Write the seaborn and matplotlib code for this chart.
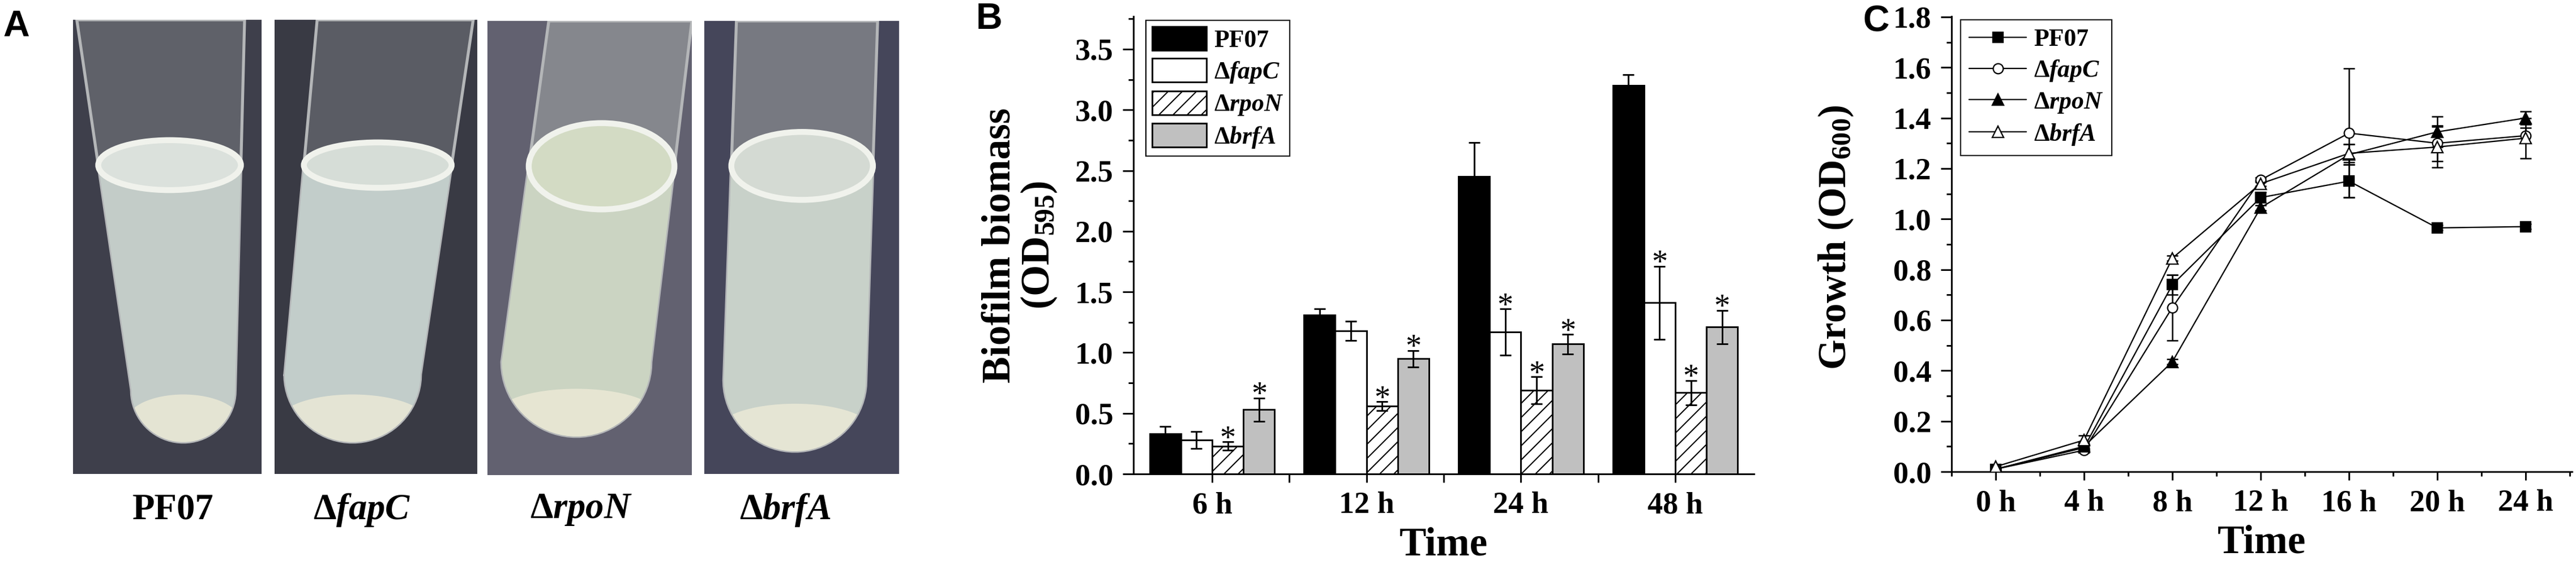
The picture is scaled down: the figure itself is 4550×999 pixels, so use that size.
import numpy as np
import pandas as pd
import matplotlib
matplotlib.use("Agg")
import matplotlib.pyplot as plt
import seaborn as sns
from matplotlib.patches import Polygon, Ellipse, Rectangle
from matplotlib.lines import Line2D
from matplotlib.ticker import MultipleLocator, FixedLocator, FormatStrFormatter


# ---------------- data ----------------
strains = ["PF07", "dfapC", "drpoN", "dbrfA"]
strain_labels = ["PF07", r"$\Delta\mathit{fapC}$", r"$\Delta\mathit{rpoN}$", r"$\Delta\mathit{brfA}$"]

# panel B : biofilm biomass (OD595)
biofilm_times = ["6 h", "12 h", "24 h", "48 h"]
biofilm_pf07 = [0.33, 1.31, 2.45, 3.20]
biofilm_fapc = [0.28, 1.18, 1.17, 1.41]
biofilm_rpon = [0.23, 0.56, 0.69, 0.67]
biofilm_brfa = [0.53, 0.95, 1.07, 1.21]
biofilm_err_pf07 = [0.06, 0.05, 0.28, 0.09]
biofilm_err_fapc = [0.07, 0.08, 0.19, 0.30]
biofilm_err_rpon = [0.035, 0.036, 0.11, 0.10]
biofilm_err_brfa = [0.095, 0.068, 0.08, 0.137]
biofilm_sig_pf07 = [False, False, False, False]
biofilm_sig_fapc = [False, False, True, True]
biofilm_sig_rpon = [True, True, True, True]
biofilm_sig_brfa = [True, True, True, True]

# panel C : growth (OD600)
growth_hours = [0, 4, 8, 12, 16, 20, 24]
growth_ticklabels = ["0 h", "4 h", "8 h", "12 h", "16 h", "20 h", "24 h"]
growth_pf07 = [0.01, 0.095, 0.74, 1.085, 1.15, 0.965, 0.97]
growth_fapc = [0.01, 0.085, 0.65, 1.155, 1.34, 1.30, 1.33]
growth_rpon = [0.01, 0.10, 0.435, 1.045, 1.255, 1.345, 1.40]
growth_brfa = [0.02, 0.125, 0.845, 1.14, 1.26, 1.285, 1.32]
growth_err_pf07 = [0.005, 0.01, 0.04, 0.02, 0.065, 0.01, 0.01]
growth_err_fapc = [0.005, 0.008, 0.13, 0.01, 0.255, 0.07, 0.03]
growth_err_rpon = [0.005, 0.01, 0.01, 0.01, 0.04, 0.06, 0.025]
growth_err_brfa = [0.01, 0.018, 0.01, 0.01, 0.035, 0.08, 0.08]


# ---------------- style ----------------
sns.set_theme(style="ticks")
plt.rcParams.update({
    "font.family": ["Liberation Serif", "DejaVu Serif"],
    "font.weight": "bold",
    "axes.labelweight": "bold",
    "mathtext.fontset": "custom",
    "mathtext.rm": "Liberation Serif:bold",
    "mathtext.it": "Liberation Serif:bold:italic",
    "mathtext.bf": "Liberation Serif:bold",
    "text.color": "black",
    "axes.labelcolor": "black",
    "axes.edgecolor": "black",
    "axes.linewidth": 1.4,
    "xtick.color": "black",
    "ytick.color": "black",
    "xtick.major.width": 1.4,
    "ytick.major.width": 1.4,
    "xtick.minor.width": 1.4,
    "ytick.minor.width": 1.4,
    "xtick.major.size": 7,
    "ytick.major.size": 9,
    "xtick.minor.size": 4,
    "ytick.minor.size": 4.5,
    "hatch.linewidth": 1.0,
    "legend.edgecolor": "black",
})

W, H = 4550, 999
DPI = 150
fig = plt.figure(figsize=(W / DPI, H / DPI), dpi=DPI, facecolor="white")


def fig_rect(x0, y0, x1, y1):
    # pixel box (from top-left) -> figure fraction rect
    return [x0 / W, 1 - y1 / H, (x1 - x0) / W, (y1 - y0) / H]


# ---------------- panel A : tube photos (drawn) ----------------
photo_boxes = [(129, 35, 462, 838), (485, 35, 843, 838), (861, 37, 1222, 840), (1244, 37, 1588, 838)]
photo_bg = ["#3e3f4b", "#393a44", "#626170", "#45465a"]
glass_col = ["#5f6169", "#5a5c64", "#85878d", "#777981"]
liquid_col = ["#c3ccc8", "#c2cdca", "#cbd4c2", "#c8d1c9"]
surface_col = ["#dbe1dc", "#d6ddd7", "#d3dbc4", "#d4dad3"]
# top-left, top-right, bottom-left, bottom-right, meniscus level, meniscus height, bottom tip
tube_shape = [
    (0.02, 0.91, 0.31, 0.86, 0.68, 0.11, 0.07),
    (0.21, 0.98, 0.05, 0.72, 0.68, 0.10, 0.07),
    (0.30, 1.00, 0.07, 0.80, 0.68, 0.19, 0.085),
    (0.165, 0.89, 0.10, 0.83, 0.68, 0.15, 0.05),
]

for i, box in enumerate(photo_boxes):
    tl, tr, bl, br, men, mh, bot = tube_shape[i]
    ax = fig.add_axes(fig_rect(*box))
    ax.set_xlim(0, 1)
    ax.set_ylim(0, 1)
    ax.set_facecolor(photo_bg[i])
    ax.set_xticks([])
    ax.set_yticks([])
    for s in ax.spines.values():
        s.set_visible(False)
    aspect = (box[2] - box[0]) / (box[3] - box[1])
    r = (br - bl) / 2
    cx = (bl + br) / 2
    cy = bot + r * aspect
    t = np.linspace(np.pi, 2 * np.pi, 40)
    arc = np.column_stack([cx + r * np.cos(t), cy + r * aspect * np.sin(t)])

    def edge_x(y, top_x, bot_x):
        return bot_x + (top_x - bot_x) * (y - cy) / (1 - cy)

    glass = np.vstack([[tl, 1.0], [bl, cy], arc, [br, cy], [tr, 1.0]])
    ax.add_patch(Polygon(glass, closed=True, fc=glass_col[i], ec="#b4b6b8", lw=2.5))
    xl, xr = edge_x(men, tl, bl), edge_x(men, tr, br)
    liquid = np.vstack([[xl, men], [bl, cy], arc, [br, cy], [xr, men]])
    liq_patch = ax.add_patch(Polygon(liquid, closed=True, fc=liquid_col[i], ec="none"))
    glow = ax.add_patch(Ellipse((cx, bot + 0.045), (br - bl) * 1.1, 0.12, fc="#ebe9d6", ec="none", alpha=0.85))
    glow.set_clip_path(liq_patch)
    ax.add_patch(Ellipse(((xl + xr) / 2, men), xr - xl, mh, fc=surface_col[i], ec="#f0f2ec", lw=5))

photo_centers = [306, 639, 1026, 1387]
for cxp, lab in zip(photo_centers, strain_labels):
    fig.text(cxp / W, 1 - 901 / H, lab, ha="center", va="center", fontsize=31, fontweight="bold")

fig.text(5 / W, 1 - 17 / H, "A", ha="left", va="top", fontsize=31, fontweight="bold", family="Liberation Sans")


# ---------------- panel B : biofilm bars ----------------
df_b = pd.DataFrame({
    "time": biofilm_times * len(strains),
    "strain": np.repeat(strains, len(biofilm_times)),
    "od": biofilm_pf07 + biofilm_fapc + biofilm_rpon + biofilm_brfa,
})
bar_colors = ["black", "white", "white", "#c0c0c0"]
bar_hatches = ["", "", "//", ""]
bar_errs = [biofilm_err_pf07, biofilm_err_fapc, biofilm_err_rpon, biofilm_err_brfa]
bar_sig = [biofilm_sig_pf07, biofilm_sig_fapc, biofilm_sig_rpon, biofilm_sig_brfa]

ax_b = fig.add_axes(fig_rect(2002, 29, 3098, 838))
sns.barplot(data=df_b, x="time", y="od", hue="strain", order=biofilm_times, hue_order=strains,
            palette=dict(zip(strains, bar_colors)), saturation=1, width=0.81,
            edgecolor="black", linewidth=1.4, errorbar=None, legend=False, ax=ax_b)

for cont, errs, sigs, hatch in zip(ax_b.containers, bar_errs, bar_sig, bar_hatches):
    xs = [p.get_x() + p.get_width() / 2 for p in cont]
    hs = [p.get_height() for p in cont]
    for p in cont:
        p.set_hatch(hatch)
    ax_b.errorbar(xs, hs, yerr=errs, fmt="none", ecolor="black", elinewidth=1.4,
                  capsize=5, capthick=1.4, zorder=3)
    for x, h, e, s in zip(xs, hs, errs, sigs):
        if s:
            ax_b.annotate("*", (x, h + e), xytext=(0, -5), textcoords="offset points",
                          ha="center", va="baseline", fontsize=27, fontweight="normal")

ax_b.set_xlim(-0.51, 3.51)
ax_b.set_ylim(0, 3.77)
ax_b.yaxis.set_major_locator(MultipleLocator(0.5))
ax_b.yaxis.set_minor_locator(MultipleLocator(0.25))
ax_b.yaxis.set_major_formatter(FormatStrFormatter("%.1f"))
ax_b.xaxis.set_minor_locator(FixedLocator([0.5, 1.5, 2.5]))
ax_b.tick_params(axis="x", which="minor", length=7)
ax_b.tick_params(axis="both", which="major", labelsize=26, pad=8)
ax_b.set_xlabel("Time", fontsize=34, labelpad=6)
ax_b.set_ylabel("Biofilm biomass\n(OD$_{595}$)", fontsize=34, labelpad=14, linespacing=1.0)
sns.despine(ax=ax_b)

handles_b = [Rectangle((0, 0), 1, 1, fc=c, ec="black", lw=1.4, hatch=h)
             for c, h in zip(bar_colors, bar_hatches)]
leg_b = ax_b.legend(handles_b, strain_labels, loc="upper left", bbox_to_anchor=(22 / 1096, 1 - 7 / 809),
                    borderaxespad=0, frameon=True, fancybox=False, framealpha=1, fontsize=21,
                    handlelength=2.2, handleheight=1.1, labelspacing=0.25, borderpad=0.25,
                    handletextpad=0.3)
leg_b.get_frame().set_linewidth(1.0)

fig.text(1724 / W, 1 - 4 / H, "B", ha="left", va="top", fontsize=31, fontweight="bold", family="Liberation Sans")


# ---------------- panel C : growth curves ----------------
ax_c = fig.add_axes(fig_rect(3447, 29, 4543, 834))
growth_vals = [growth_pf07, growth_fapc, growth_rpon, growth_brfa]
growth_errs = [growth_err_pf07, growth_err_fapc, growth_err_rpon, growth_err_brfa]
line_markers = ["s", "o", "^", "^"]
marker_faces = ["black", "white", "black", "white"]
marker_sizes = [8.5, 8.5, 9.5, 9.5]

handles_c = []
for vals, errs, m, fc, ms in zip(growth_vals, growth_errs, line_markers, marker_faces, marker_sizes):
    ax_c.errorbar(growth_hours, vals, yerr=errs, fmt="none", ecolor="black", elinewidth=1.2,
                  capsize=5, capthick=1.2, zorder=2)
    sns.lineplot(x=growth_hours, y=vals, color="black", linewidth=1.1, marker=m, markersize=ms,
                 markerfacecolor=fc, markeredgecolor="black", markeredgewidth=1.1, ax=ax_c, zorder=3)
    handles_c.append(Line2D([], [], color="black", lw=1.1, marker=m, markersize=ms,
                            markerfacecolor=fc, markeredgecolor="black", markeredgewidth=1.1))

ax_c.set_xlim(-2.0, 26.1)
ax_c.set_ylim(0, 1.802)
ax_c.set_xticks(growth_hours)
ax_c.set_xticklabels(growth_ticklabels)
ax_c.xaxis.set_minor_locator(MultipleLocator(2))
ax_c.yaxis.set_major_locator(MultipleLocator(0.2))
ax_c.yaxis.set_minor_locator(MultipleLocator(0.1))
ax_c.yaxis.set_major_formatter(FormatStrFormatter("%.1f"))
ax_c.tick_params(axis="both", which="major", labelsize=26, pad=8)
ax_c.set_xlabel("Time", fontsize=34, labelpad=6)
ax_c.set_ylabel("Growth (OD$_{600}$)", fontsize=33, labelpad=18)
ax_c.yaxis.set_label_coords(-0.155, 0.515)
sns.despine(ax=ax_c)

leg_c = ax_c.legend(handles_c, strain_labels, loc="upper left", bbox_to_anchor=(16 / 1096, 1 - 6 / 805),
                    borderaxespad=0, frameon=True, fancybox=False, framealpha=1, fontsize=21,
                    handlelength=2.3, labelspacing=0.3, borderpad=0.35, handletextpad=0.3)
leg_c.get_frame().set_linewidth(1.0)

fig.text(3290 / W, 1 - 8 / H, "C", ha="left", va="top", fontsize=31, fontweight="bold", family="Liberation Sans")

fig.savefig("out.png", dpi=DPI, facecolor="white")
